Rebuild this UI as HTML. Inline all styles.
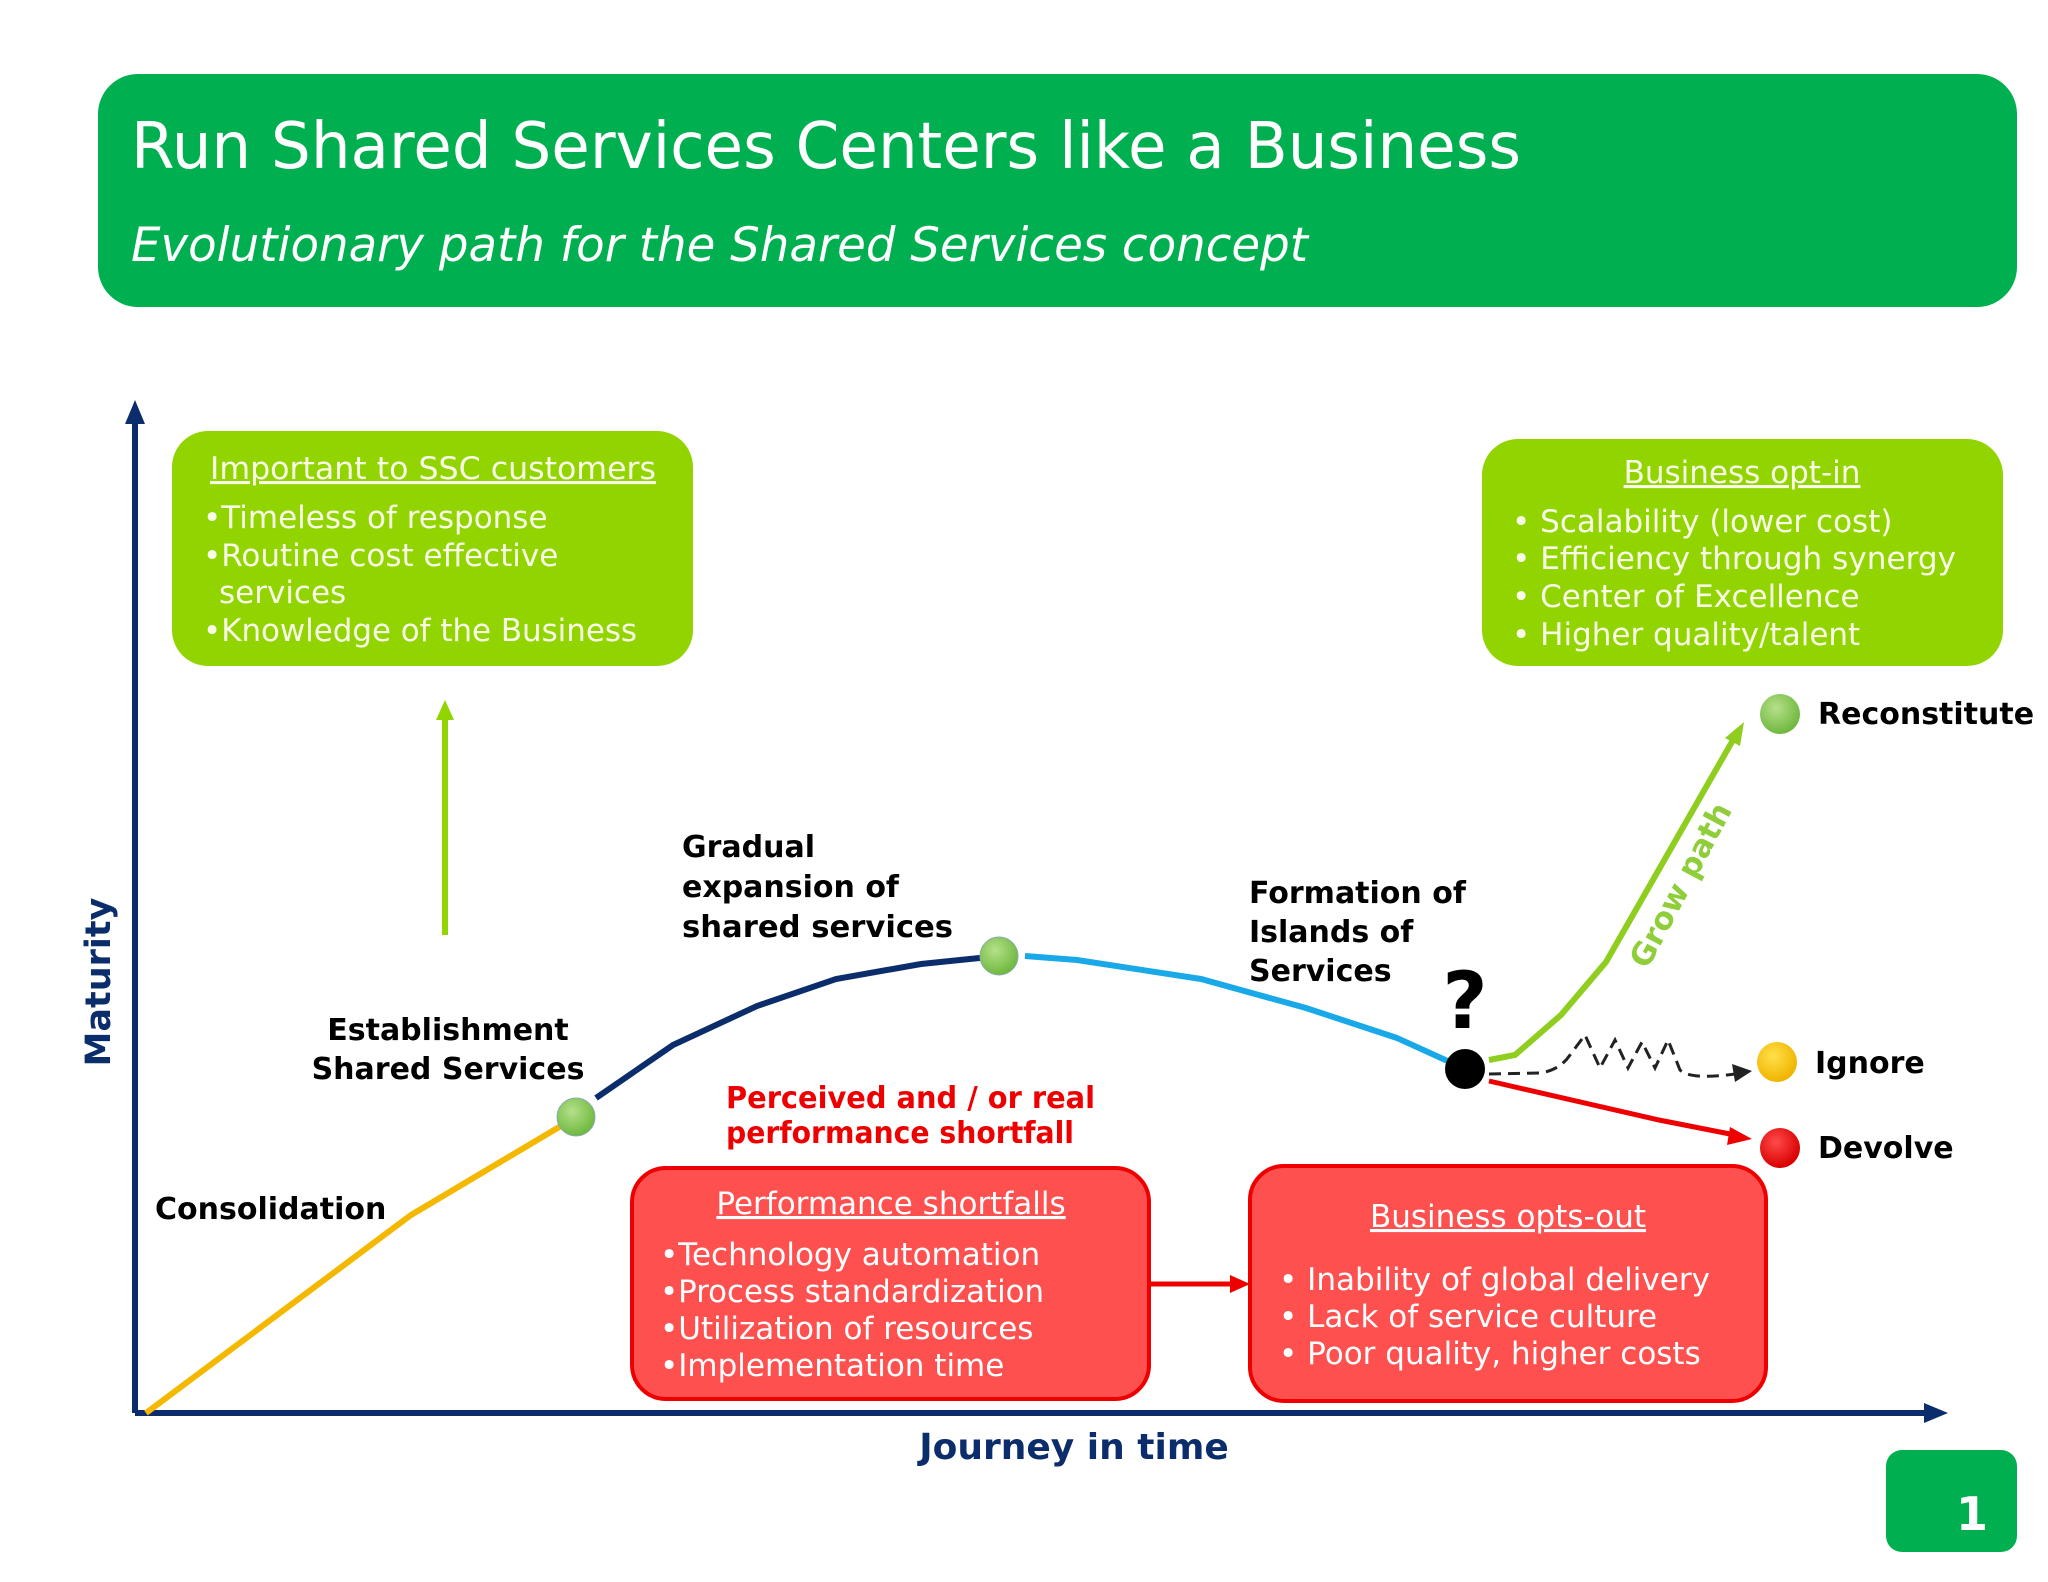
<!DOCTYPE html>
<html><head><meta charset="utf-8"><style>
html,body{margin:0;padding:0;background:#fff;}
svg{display:block;}
text{font-family:"DejaVu Sans","Liberation Sans",sans-serif;}
.b{font-weight:bold;}
</style></head><body>
<svg width="2048" height="1582" viewBox="0 0 2048 1582" xmlns="http://www.w3.org/2000/svg">
<defs>
<radialGradient id="gG" cx="40%" cy="35%" r="65%"><stop offset="0" stop-color="#b5e08a"/><stop offset="1" stop-color="#6fb83e"/></radialGradient>
<radialGradient id="gY" cx="40%" cy="35%" r="65%"><stop offset="0" stop-color="#ffe04a"/><stop offset="1" stop-color="#f0b400"/></radialGradient>
<radialGradient id="gR" cx="40%" cy="35%" r="65%"><stop offset="0" stop-color="#ff4a4a"/><stop offset="1" stop-color="#d80000"/></radialGradient>
</defs>

<rect x="98" y="74" width="1919" height="233" rx="40" fill="#00b050"/>
<text x="131" y="168" font-size="64" fill="#fff" textLength="1390" lengthAdjust="spacingAndGlyphs">Run Shared Services Centers like a Business</text>
<text x="131" y="261" font-size="47" font-style="italic" fill="#fff" textLength="1177" lengthAdjust="spacingAndGlyphs">Evolutionary path for the Shared Services concept</text>

<line x1="135" y1="1413" x2="135" y2="418" stroke="#0c2d6b" stroke-width="6"/>
<path d="M135,400 L125,424 L145,424 z" fill="#0c2d6b"/>
<line x1="135" y1="1413" x2="1928" y2="1413" stroke="#0c2d6b" stroke-width="6"/>
<path d="M1948,1413 L1924,1403 L1924,1423 z" fill="#0c2d6b"/>
<text transform="translate(110,982) rotate(-90)" text-anchor="middle" class="b" font-size="35" fill="#0c2d6b">Maturity</text>
<text x="1074" y="1459" text-anchor="middle" class="b" font-size="36" fill="#0c2d6b">Journey in time</text>

<rect x="172" y="431" width="521" height="235" rx="36" fill="#92d400"/>
<g fill="#f8fde8" font-size="31">
<text x="433" y="479" text-anchor="middle" text-decoration="underline" textLength="446" lengthAdjust="spacingAndGlyphs">Important to SSC customers</text>
<text x="203" y="528">•Timeless of response</text>
<text x="203" y="566">•Routine cost effective</text>
<text x="219" y="603">services</text>
<text x="203" y="641" textLength="434" lengthAdjust="spacingAndGlyphs">•Knowledge of the Business</text>
</g>
<line x1="445" y1="935" x2="445" y2="715" stroke="#92d400" stroke-width="6"/>
<path d="M445,700 L436,720 L454,720 z" fill="#92d400"/>

<rect x="1482" y="439" width="521" height="227" rx="36" fill="#92d400"/>
<g fill="#f8fde8" font-size="31">
<text x="1742" y="483" text-anchor="middle" text-decoration="underline">Business opt-in</text>
<text x="1512" y="532">• Scalability (lower cost)</text>
<text x="1512" y="569" textLength="444" lengthAdjust="spacingAndGlyphs">• Efficiency through synergy</text>
<text x="1512" y="607">• Center of Excellence</text>
<text x="1512" y="645">• Higher quality/talent</text>
</g>

<rect x="632" y="1168" width="517" height="231" rx="34" fill="#ff5050" stroke="#ee0000" stroke-width="4"/>
<g fill="#fff" font-size="31">
<text x="891" y="1214" text-anchor="middle" text-decoration="underline">Performance shortfalls</text>
<text x="660" y="1265">•Technology automation</text>
<text x="660" y="1302" textLength="384" lengthAdjust="spacingAndGlyphs">•Process standardization</text>
<text x="660" y="1339">•Utilization of resources</text>
<text x="660" y="1376">•Implementation time</text>
</g>
<rect x="1250" y="1166" width="516" height="235" rx="34" fill="#ff5050" stroke="#ee0000" stroke-width="4"/>
<g fill="#fff" font-size="31">
<text x="1508" y="1227" text-anchor="middle" text-decoration="underline">Business opts-out</text>
<text x="1279" y="1290" textLength="431" lengthAdjust="spacingAndGlyphs">• Inability of global delivery</text>
<text x="1279" y="1327">• Lack of service culture</text>
<text x="1279" y="1364">• Poor quality, higher costs</text>
</g>
<line x1="1151" y1="1284" x2="1232" y2="1284" stroke="#ee0000" stroke-width="5"/>
<path d="M1250,1284 L1230,1275 L1230,1293 z" fill="#ee0000"/>

<polyline points="146,1413 411,1215 576,1117" fill="none" stroke="#f5b800" stroke-width="6"/>
<polyline points="596,1098 673,1045 757,1006 836,979 921,964 999,956" fill="none" stroke="#0c2d6b" stroke-width="6"/>
<polyline points="1025,956 1077,960 1201,979 1306,1008 1397,1038 1463,1068" fill="none" stroke="#1aa9e8" stroke-width="6"/>

<polyline points="1489,1060 1515,1055 1561,1015 1606,962 1733,740" fill="none" stroke="#8fce1f" stroke-width="6"/>
<path d="M1744,722 L1725,738 L1740,746 z" fill="#8fce1f"/>
<polyline points="1489,1081 1659,1120 1730,1134" fill="none" stroke="#ee0000" stroke-width="5"/>
<path d="M1752,1139 L1730,1127 L1727,1145 z" fill="#ee0000"/>
<path d="M1489,1074 L1540,1073 Q1560,1070 1570,1055 L1585,1035 L1600,1068 L1615,1040 L1628,1068 L1642,1042 L1655,1068 L1668,1040 L1680,1070 Q1690,1080 1735,1074" fill="none" stroke="#222" stroke-width="3" stroke-dasharray="12,7"/>
<path d="M1752,1071 L1732,1064 L1735,1082 z" fill="#222"/>
<text transform="translate(1690,890) rotate(-62)" text-anchor="middle" class="b" font-size="31" fill="#8fce3a">Grow path</text>

<circle cx="576" cy="1117" r="19" fill="url(#gG)" stroke="#8aa" stroke-width="1"/>
<circle cx="999" cy="956" r="19" fill="url(#gG)" stroke="#8aa" stroke-width="1"/>
<circle cx="1465" cy="1069" r="20" fill="#000"/>
<circle cx="1780" cy="714" r="20" fill="url(#gG)"/>
<circle cx="1777" cy="1062" r="20" fill="url(#gY)"/>
<circle cx="1780" cy="1148" r="20" fill="url(#gR)"/>
<text x="1465" y="1028" text-anchor="middle" class="b" font-size="78" fill="#000">?</text>

<g class="b" font-size="30" fill="#000">
<text x="1818" y="724">Reconstitute</text>
<text x="1815" y="1073">Ignore</text>
<text x="1818" y="1158">Devolve</text>
<text x="682" y="857">Gradual</text>
<text x="682" y="897">expansion of</text>
<text x="682" y="937" textLength="271" lengthAdjust="spacingAndGlyphs">shared services</text>
<text x="1249" y="903">Formation of</text>
<text x="1249" y="942">Islands of</text>
<text x="1249" y="981">Services</text>
<text x="448" y="1040" text-anchor="middle">Establishment</text>
<text x="448" y="1079" text-anchor="middle">Shared Services</text>
<text x="155" y="1219">Consolidation</text>
</g>
<g class="b" font-size="30" fill="#ee0000">
<text x="726" y="1108" textLength="369" lengthAdjust="spacingAndGlyphs">Perceived and / or real</text>
<text x="726" y="1143" textLength="348" lengthAdjust="spacingAndGlyphs">performance shortfall</text>
</g>

<rect x="1886" y="1450" width="131" height="102" rx="16" fill="#00b050"/>
<text x="1988" y="1530" text-anchor="end" class="b" font-size="46" fill="#fff">1</text>
</svg>
</body></html>
